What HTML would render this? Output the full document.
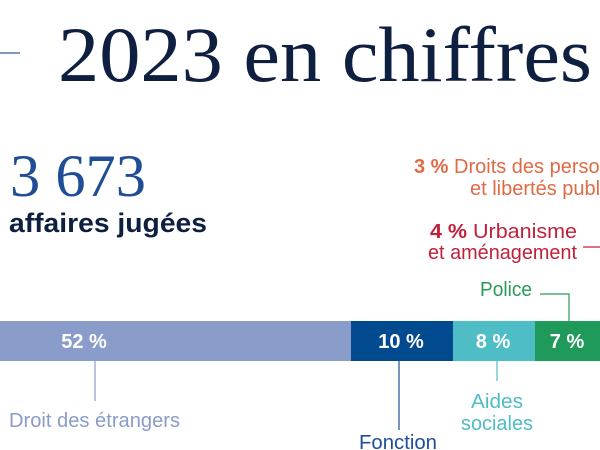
<!DOCTYPE html>
<html><head><meta charset="utf-8"><style>
html,body{margin:0;padding:0;background:#fff;width:600px;height:450px;overflow:hidden}
svg{display:block}
.s{font-family:"Liberation Sans",sans-serif}
.r{font-family:"Liberation Serif",serif}
</style></head><body>
<svg width="600" height="450" viewBox="0 0 600 450" xmlns="http://www.w3.org/2000/svg">
<line x1="0" y1="53" x2="20" y2="53" stroke="#2f5c9a" stroke-width="1.2"/>
<text class="r" x="58" y="81" font-size="78" fill="#0e1f40" textLength="534" lengthAdjust="spacingAndGlyphs">2023 en chiffres</text>
<text class="r" x="10" y="196" font-size="60" fill="#1f4e96" textLength="136" lengthAdjust="spacingAndGlyphs">3 673</text>
<text class="s" x="9" y="232" font-size="27" font-weight="bold" fill="#0e1f40" textLength="198" lengthAdjust="spacingAndGlyphs">affaires jugées</text>
<text class="s" x="414" y="173" font-size="20" fill="#e06a44"><tspan font-weight="bold">3 %</tspan> Droits des personnes</text>
<text class="s" x="470" y="195" font-size="20" fill="#e06a44">et libertés publiques</text>
<text class="s" x="430" y="238" font-size="20" fill="#c0203a" textLength="147" lengthAdjust="spacingAndGlyphs"><tspan font-weight="bold">4 %</tspan> Urbanisme</text>
<text class="s" x="428" y="259" font-size="20" fill="#c0203a" textLength="149" lengthAdjust="spacingAndGlyphs">et aménagement</text>
<line x1="583" y1="247" x2="600" y2="247" stroke="#c0203a" stroke-width="1.2"/>
<text class="s" x="480" y="296" font-size="20" fill="#2a9a5a" textLength="52" lengthAdjust="spacingAndGlyphs">Police</text>
<polyline points="540,294 569,294 569,321" fill="none" stroke="#2a9a5a" stroke-width="1.2"/>
<rect x="0" y="321" width="351" height="40" fill="#8a9cca"/>
<rect x="351" y="321" width="102" height="40" fill="#024a8f"/>
<rect x="453" y="321" width="82" height="40" fill="#4fbdc6"/>
<rect x="535" y="321" width="65" height="40" fill="#1f9a5a"/>
<g class="s" font-size="20" font-weight="bold" fill="#fff" text-anchor="middle">
<text x="84" y="348">52 %</text>
<text x="401" y="348">10 %</text>
<text x="493" y="348">8 %</text>
<text x="567" y="348">7 %</text>
</g>
<line x1="95" y1="361" x2="95" y2="401" stroke="#8a9cca" stroke-width="1.2"/>
<line x1="399" y1="361" x2="399" y2="430" stroke="#1f4e96" stroke-width="1.2"/>
<line x1="497" y1="361" x2="497" y2="381" stroke="#4fbdc6" stroke-width="1.2"/>
<text class="s" x="9" y="427" font-size="20" fill="#8a9cca" textLength="171" lengthAdjust="spacingAndGlyphs">Droit des étrangers</text>
<text class="s" x="359" y="449" font-size="20" fill="#1f4e96" textLength="78" lengthAdjust="spacingAndGlyphs">Fonction</text>
<text class="s" x="497" y="408" font-size="20" fill="#4fbdc6" text-anchor="middle" textLength="52" lengthAdjust="spacingAndGlyphs">Aides</text>
<text class="s" x="497" y="430" font-size="20" fill="#4fbdc6" text-anchor="middle" textLength="72" lengthAdjust="spacingAndGlyphs">sociales</text>
</svg>
</body></html>
